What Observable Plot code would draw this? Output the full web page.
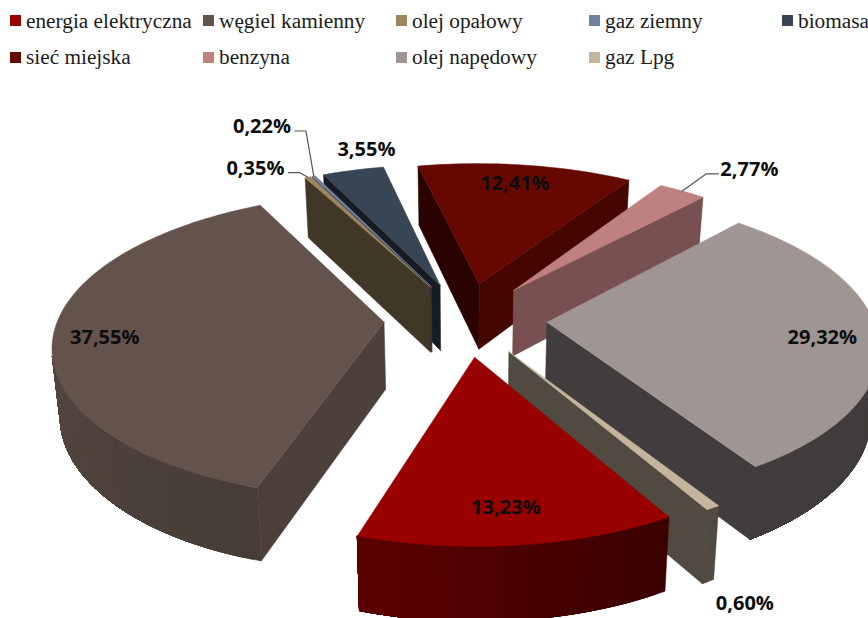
<!DOCTYPE html>
<html>
<head>
<meta charset="utf-8">
<script src="https://cdn.jsdelivr.net/npm/d3@7"></script>
<script src="https://cdn.jsdelivr.net/npm/@observablehq/plot@0.6"></script>
<style>
html,body{margin:0;padding:0;background:#fff;overflow:hidden}
#legend{position:relative;width:868px;height:80px;font:21.3px "Liberation Serif",serif;color:#1c1c1c}
#legend span{position:absolute;white-space:nowrap;line-height:24px}
#legend i{position:absolute;width:11px;height:11px}
svg{display:block;overflow:hidden}
</style>
</head>
<body>
<div id="legend"></div>
<div id="chart"></div>
<script>
// Data
const categories = ["energia elektryczna","węgiel kamienny","olej opałowy","gaz ziemny","biomasa","sieć miejska","benzyna","olej napędowy","gaz Lpg"];
const shares = [13.23,37.55,0.35,0.22,3.55,12.41,2.77,29.32,0.60];
const colors = ["#990000","#63534b","#9c8660","#71809c","#384555","#660800","#bf8080","#9f9694","#c4b59e"];

// Chart style: rim shading per slice, label placement relative to each slice
const arcShade = [[.38,.6],[.72,1],[.5,.5],[.5,.5],[.5,.5],[.5,.5],[.5,.5],[.4,.4],[.41,.41]];
const labelRadius = [.82,.845,1.18,1.548,1.19,.84,1.325,.833,1.385];
const labelTurn = [.7,-1.4,-6.4,.35,5,-1,3.5,1.4,7.7];
const leaderSide = [0,0,1,1,0,0,-1,0,0];

// 3D pie view
const view = {x0:465,y0:318.5,a:326,b:148,p:.15,px:.14,explode:.25,start:150,shrink:.02};
const rad = d => d*Math.PI/180;
const dir = t => [Math.sin(rad(t)),-Math.cos(rad(t))];
function project([u,v]){return [view.x0+view.a*u/(1-view.px*v),view.y0+view.b*v/(1-view.p*v)];}
function below([u,v]){const [x,y]=project([u,v]);return [view.x0+(x-view.x0)*(1-view.shrink),y+67+6.4*v];}
const shade=(c,f)=>{const r=d3.rgb(c);return d3.rgb(r.r*f,r.g*f,r.b*f).formatHex();};
const area=q=>d3.polygonArea(q);
const closed=q=>[...q,q[0]];

let cum=view.start;
const slices=shares.map((s,i)=>{
  const t0=cum,t1=cum+s*3.6;cum=t1;
  const mid=(t0+t1)/2,d=dir(mid);
  const apex=[d[0]*view.explode,d[1]*view.explode];
  return {i,t0,t1,mid,apex,color:colors[i]};
});
const at=(s,t,r=1)=>{const d=dir(t);return [s.apex[0]+d[0]*r,s.apex[1]+d[1]*r];};

const polys=[];
function wall(a,b,color){
  const q=[project(a),project(b),below(b),below(a)];
  if(area(q)>0) polys.push({pts:closed(q),color});
}
const flat=n=>{const nu=Math.sin(rad(n));return nu>0?Math.max(.6,.78-.006*(((n%360)+360)%360-107)):.41;};
for(const s of [...slices].sort((p,q)=>Math.cos(rad(q.mid))-Math.cos(rad(p.mid)))){
  wall(s.apex,at(s,s.t0),shade(s.color,flat(s.t0-90)));
  wall(at(s,s.t1),s.apex,shade(s.color,flat(s.t1+90)));
  const n=Math.max(1,Math.ceil((s.t1-s.t0)/1.5));
  const [f0,f1]=arcShade[s.i];
  const ang=k=>s.t0+(s.t1-s.t0)*k/n;
  // visible part of the rim, painted as nested bands so that no seams show
  const vis=[];
  for(let k=0;k<n;k++){
    const a=at(s,ang(k)),b=at(s,ang(k+1));
    if(area([project(a),project(b),below(b),below(a)])>0) vis.push(k);
  }
  if(vis.length){
    const last=vis[vis.length-1]+1;
    for(const k of vis){
      const rim=d3.range(k,last+1).map(j=>at(s,ang(j)));
      const q=[...rim.map(project),...rim.slice().reverse().map(below)];
      polys.push({pts:closed(q),color:shade(s.color,f0+(f1-f0)*(k+.5)/n)});
    }
  }
  const top=[project(s.apex)];
  for(let k=0;k<=n;k++) top.push(project(at(s,ang(k))));
  polys.push({pts:closed(top),color:s.color});
}

// Labels
const fmt=v=>v.toFixed(2).replace(".",",")+"%";
const labels=slices.map(s=>{
  const [x,y]=project(at(s,s.mid+labelTurn[s.i],labelRadius[s.i]));
  return {x,y,text:fmt(shares[s.i]),side:leaderSide[s.i],s};
});
const leaders=labels.filter(l=>l.side!==0).map(l=>{
  const sx=l.x+(l.side>0?33:-31), ly=l.y+5.5;
  return [[sx,ly],[sx+(l.side>0?11:-12),ly],project(at(l.s,l.s.mid))];
});

const marks=polys.map(p=>Plot.line(p.pts,{x:d=>d[0],y:d=>d[1],fill:p.color,stroke:p.color,strokeWidth:.5,strokeLinejoin:"round"}));
leaders.forEach(l=>marks.push(Plot.line(l,{x:d=>d[0],y:d=>d[1],stroke:"#555",strokeWidth:1.2})));
marks.push(Plot.text(labels,{x:"x",y:"y",dy:1.5,text:"text",fontFamily:"Open Sans",fontWeight:700,fontSize:20,fill:"#0d0d0d"}));

const chart=Plot.plot({
  width:868,height:538,margin:0,
  x:{domain:[0,868],range:[0,868],axis:null},
  y:{domain:[80,618],range:[0,538],axis:null},
  style:{background:"transparent"},
  marks
});
document.getElementById("chart").append(chart);

// Legend
const legend=document.getElementById("legend");
const colX=[10,203,396,589,782];
categories.forEach((c,i)=>{
  const col=i<5?i:i-5,row=i<5?0:1;
  const sw=document.createElement("i");
  sw.style.cssText=`left:${colX[col]}px;top:${row?52:15}px;background:${colors[i]}`;
  const t=document.createElement("span");
  t.textContent=c;
  t.style.cssText=`left:${colX[col]+16}px;top:${row?45:9}px`;
  legend.append(sw,t);
});
</script>
</body>
</html>
